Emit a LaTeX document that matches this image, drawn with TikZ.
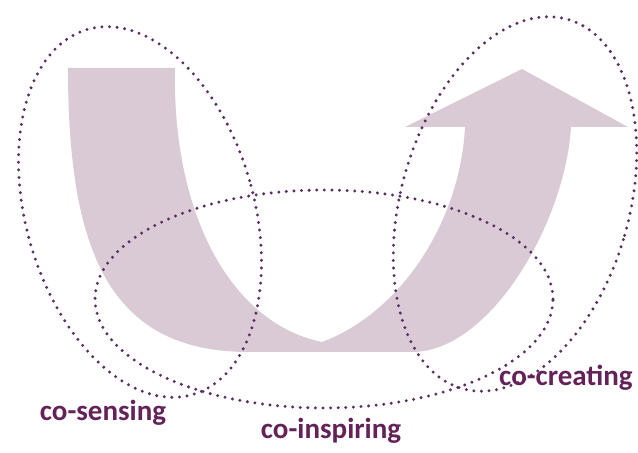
\documentclass[tikz,border=0pt]{standalone}
\usepackage{fontspec}
\setmainfont{Carlito}
\definecolor{arrowfill}{RGB}{217,202,213}
\definecolor{dotcol}{RGB}{92,44,100}
\definecolor{txtcol}{RGB}{100,34,88}
\tikzset{
  dotring/.style={draw=dotcol, line width=3.3pt, line cap=round, dash pattern=on 0pt off 7.6pt},
  lbl/.style={text=txtcol, font=\bfseries\fontsize{29}{32}\selectfont, inner sep=0pt}
}
\begin{document}
\begin{tikzpicture}[x=1pt,y=1pt]
\useasboundingbox (0,0) rectangle (638,453);
% big U arrow
\fill[arrowfill] (68,385) .. controls (68,200) and (110,101) .. (249,101)
  -- (412,101)
  .. controls (490,101) and (565,230) .. (571,326)
  -- (628,326) -- (522,384) -- (405,326) -- (465,326)
  .. controls (460,230) and (400,140) .. (322,111)
  .. controls (230,130) and (172,240) .. (175,385) -- cycle;
% dotted ellipses
\draw[dotring] (140,241) ellipse[x radius=114, y radius=190, rotate=16];
\draw[dotring] (515,249) ellipse[x radius=114, y radius=192, rotate=-16];
\draw[dotring] (324,154) ellipse[x radius=229, y radius=109];
% labels
\node[lbl] (sens) at (103,40) {co-sensing};
\node[lbl] (insp) at (331,22) {co-inspiring};
\node[lbl] (crea) at (566,75) {co-creating};
\end{tikzpicture}
\end{document}
